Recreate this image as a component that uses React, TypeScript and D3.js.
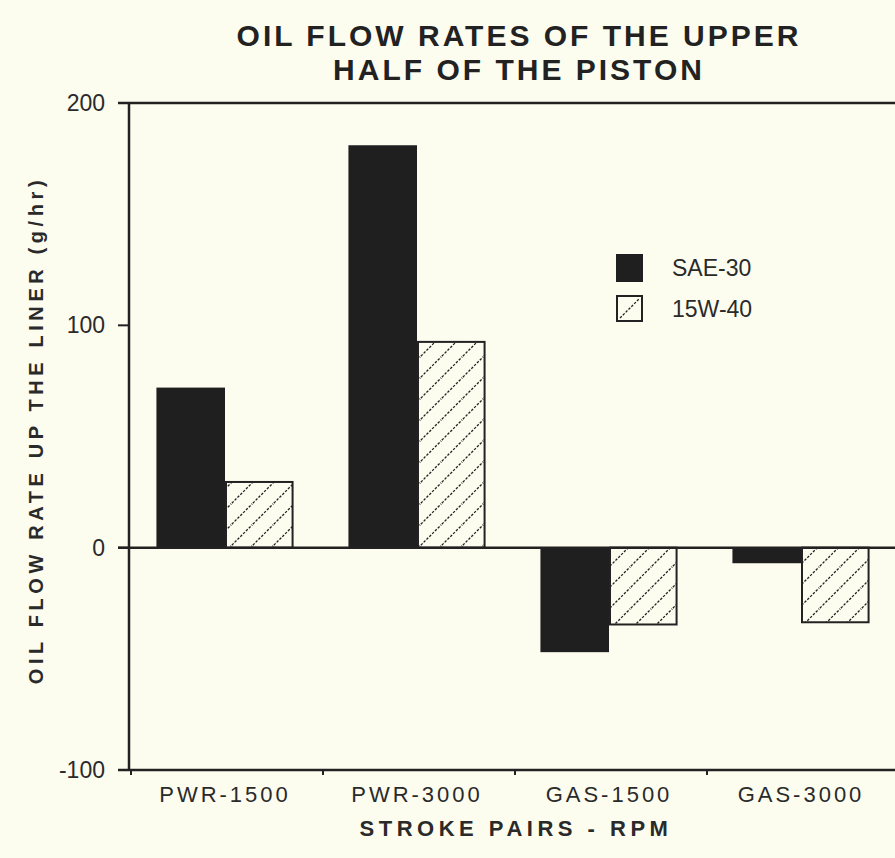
import React, { useEffect, useRef } from "react";
import * as d3 from "d3";

const categories = ["PWR-1500", "PWR-3000", "GAS-1500", "GAS-3000"];
const seriesNames = ["SAE-30", "15W-40"];
const sae30 = [72, 181, -47, -7];
const w1540 = [30, 93, -35, -34];
const yTicks = [200, 100, 0, -100];
const titleLines = ["OIL FLOW RATES OF THE UPPER", "HALF OF THE PISTON"];
const xTitle = "STROKE PAIRS - RPM";
const yTitle = "OIL FLOW RATE UP THE LINER (g/hr)";

const W = 895;
const H = 858;
const BG = "#fcfdef";
const INK = "#222";
const FONT = "'Liberation Sans', Arial, Helvetica, sans-serif";

export default function App() {
  const ref = useRef<SVGSVGElement | null>(null);

  useEffect(() => {
    const svg = d3.select(ref.current);
    svg.selectAll("*").remove();

    const defs = svg.append("defs");
    const pat = defs
      .append("pattern")
      .attr("id", "hatch")
      .attr("patternUnits", "userSpaceOnUse")
      .attr("width", 21)
      .attr("height", 21);
    pat.append("rect").attr("width", 21).attr("height", 21).attr("fill", BG);
    pat
      .append("path")
      .attr("d", "M-2,23 L23,-2 M-12,12 L12,-12 M9,33 L33,9")
      .attr("stroke", "#222")
      .attr("stroke-width", 1.3)
      .attr("stroke-dasharray", "2.5,1.5");

    svg.append("rect").attr("width", W).attr("height", H).attr("fill", BG);

    const x = d3.scaleBand<string>().domain(categories).range([131, 899]).paddingInner(0);
    const xSub = d3
      .scaleBand<string>()
      .domain(seriesNames)
      .range([0, x.bandwidth()])
      .paddingInner(0)
      .paddingOuter(0.4);
    const y = d3.scaleLinear().domain([-100, 200]).range([770, 103]);

    const data = categories.map((c, i) => ({ c, vals: [sae30[i], w1540[i]] }));

    // bars
    const g = svg.append("g");
    data.forEach((d) => {
      d.vals.forEach((v, j) => {
        const s = seriesNames[j];
        const x0 = (x(d.c) as number) + (xSub(s) as number) - 2;
        const y0 = y(Math.max(0, v));
        const h = Math.abs(y(v) - y(0));
        if (j === 0) {
          g.append("rect")
            .attr("x", x0)
            .attr("y", y0)
            .attr("width", xSub.bandwidth())
            .attr("height", h)
            .attr("fill", "#1f1f1f");
        } else {
          g.append("rect")
            .attr("x", x0 + 1)
            .attr("y", y0 + (v > 0 ? 1 : 0))
            .attr("width", xSub.bandwidth() - 2)
            .attr("height", h - 1)
            .attr("fill", "url(#hatch)")
            .attr("stroke", INK)
            .attr("stroke-width", 2);
        }
      });
    });

    // axis lines
    const axis = svg.append("g").attr("stroke", INK).attr("stroke-width", 2.5);
    axis.append("line").attr("x1", 129).attr("x2", 129).attr("y1", y(200)).attr("y2", y(-100));
    axis.append("line").attr("x1", 118).attr("x2", W).attr("y1", y(200)).attr("y2", y(200));
    axis.append("line").attr("x1", 118).attr("x2", W).attr("y1", y(0)).attr("y2", y(0));
    axis.append("line").attr("x1", 118).attr("x2", W).attr("y1", y(-100)).attr("y2", y(-100));
    yTicks.forEach((t) => {
      axis.append("line").attr("x1", 118).attr("x2", 129).attr("y1", y(t)).attr("y2", y(t)).attr("stroke-width", 2);
    });
    categories.forEach((c) => {
      const xx = x(c) as number;
      axis.append("line").attr("x1", xx).attr("x2", xx).attr("y1", y(-100)).attr("y2", y(-100) + 5).attr("stroke-width", 2);
    });

    // y tick labels
    svg
      .append("g")
      .selectAll("text")
      .data(yTicks)
      .join("text")
      .attr("x", 105)
      .attr("y", (d) => y(d) + 8)
      .attr("text-anchor", "end")
      .attr("font-family", FONT)
      .attr("font-size", 23)
      .attr("fill", "#2a2a2a")
      .text((d) => String(d));

    // x tick labels
    svg
      .append("g")
      .selectAll("text")
      .data(categories)
      .join("text")
      .attr("x", (d) => (x(d) as number) + x.bandwidth() / 2 - 2)
      .attr("y", 802)
      .attr("text-anchor", "middle")
      .attr("font-family", FONT)
      .attr("font-size", 22)
      .attr("letter-spacing", 3)
      .attr("fill", "#2a2a2a")
      .text((d) => d);

    // x title
    svg
      .append("text")
      .attr("x", 516)
      .attr("y", 836)
      .attr("text-anchor", "middle")
      .attr("font-family", FONT)
      .attr("font-weight", "bold")
      .attr("font-size", 22)
      .attr("letter-spacing", 4.5)
      .attr("fill", "#2a2a2a")
      .text(xTitle);

    // y title
    svg
      .append("text")
      .attr("transform", "translate(43,430) rotate(-90)")
      .attr("text-anchor", "middle")
      .attr("font-family", FONT)
      .attr("font-weight", "bold")
      .attr("font-size", 20)
      .attr("letter-spacing", 4.6)
      .attr("fill", "#2a2a2a")
      .text(yTitle);

    // title
    svg
      .append("g")
      .selectAll("text")
      .data(titleLines)
      .join("text")
      .attr("x", 519)
      .attr("y", (_, i) => 46 + i * 34)
      .attr("text-anchor", "middle")
      .attr("font-family", FONT)
      .attr("font-weight", "bold")
      .attr("font-size", 30)
      .attr("letter-spacing", 3)
      .attr("fill", "#222")
      .text((d) => d);

    // legend
    const lg = svg.append("g");
    seriesNames.forEach((s, i) => {
      const yy = 254 + i * 41;
      if (i === 0) {
        lg.append("rect").attr("x", 616).attr("y", yy).attr("width", 27).attr("height", 28).attr("fill", "#1f1f1f");
      } else {
        lg.append("rect")
          .attr("x", 617)
          .attr("y", yy + 1)
          .attr("width", 25)
          .attr("height", 25)
          .attr("fill", BG)
          .attr("stroke", INK)
          .attr("stroke-width", 2);
        lg.append("line")
          .attr("x1", 620)
          .attr("y1", yy + 23)
          .attr("x2", 639)
          .attr("y2", yy + 4)
          .attr("stroke", "#222")
          .attr("stroke-width", 1.3)
          .attr("stroke-dasharray", "2.5,1.5");
      }
      lg.append("text")
        .attr("x", 672)
        .attr("y", yy + 22)
        .attr("font-family", FONT)
        .attr("font-size", 23)
        .attr("fill", "#2a2a2a")
        .text(s);
    });
  }, []);

  return (
    <svg
      ref={ref}
      width={W}
      height={H}
      style={{ position: "absolute", left: 0, top: 0, display: "block" }}
    />
  );
}
